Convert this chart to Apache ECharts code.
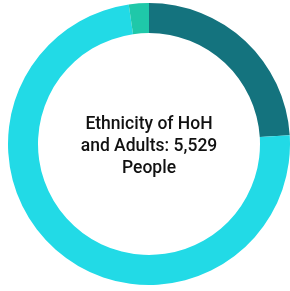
<!DOCTYPE html>
<html>
<head>
<meta charset="utf-8">
<script src="https://cdn.jsdelivr.net/npm/echarts@6/dist/echarts.min.js"></script>
<style>html,body{margin:0;padding:0;background:#fff;}#c{width:290px;height:291px;}</style>
</head>
<body>
<div id="c"></div>
<script>
const categories = ["Hispanic/Latin(a)(o)(x)", "Non-Hispanic/Non-Latin(a)(o)(x)", "Unknown"];
const values = [1327, 4075, 127];
const colors = ["#14737e", "#22dae6", "#1fc8a9"];
const centerText = "Ethnicity of HoH\nand Adults: 5,529\nPeople";

const chart = echarts.init(document.getElementById('c'), null, {renderer: 'canvas'});
chart.setOption({
  animation: false,
  color: colors,
  graphic: [{
    type: 'text',
    style: {
      text: centerText,
      x: 149, y: 147,
      textAlign: 'center',
      textVerticalAlign: 'middle',
      font: '500 17.5px Roboto',
      lineHeight: 22,
      fill: '#111111'
    }
  }],
  series: [{
    type: 'pie',
    center: [149, 144],
    radius: [111, 141],
    startAngle: 90,
    clockwise: true,
    label: {show: false},
    labelLine: {show: false},
    emphasis: {disabled: true},
    itemStyle: {borderWidth: 0},
    data: categories.map((n, i) => ({name: n, value: values[i]}))
  }]
});
</script>
</body>
</html>
